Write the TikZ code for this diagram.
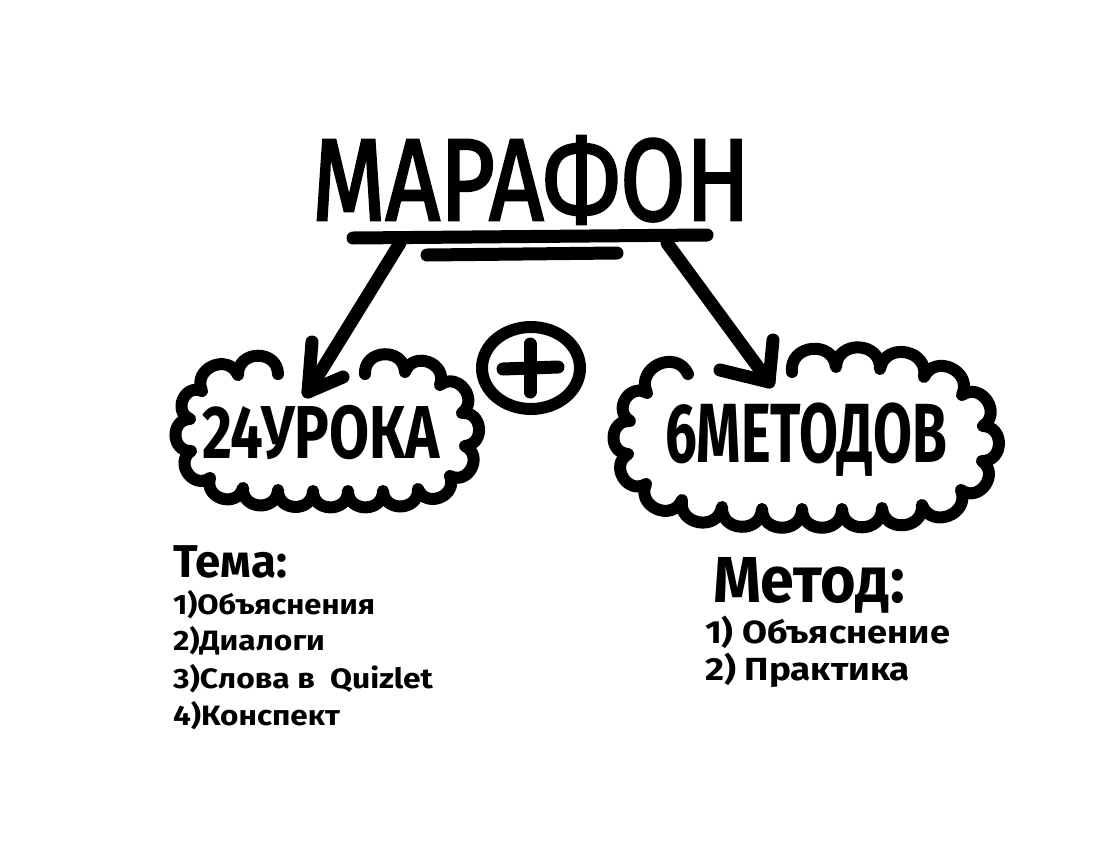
\documentclass[tikz,border=0pt]{standalone}
\usepackage{fontspec}
\setmainfont{Fira Sans}
\newfontfamily\titlefont{Fira Sans}[FakeBold=2.5]
\usetikzlibrary{shapes.geometric}
\newsavebox\fitbox
\newcommand\fitw[3]{{\fontsize{#2}{#2}\selectfont\sbox\fitbox{#3}\edef\fitr{\fpeval{(#1pt)/(\the\wd\fitbox)}}\scalebox{\fitr}[1]{\usebox\fitbox}}}
\begin{document}
\begin{tikzpicture}[x=1pt,y=-1pt,
  marker/.style={line width=13pt, line cap=round, line join=round},
  cloudline/.style={line width=12pt, line cap=round, line join=round},
  bump/.style={bend left=90, looseness=1.6},
  txt/.style={anchor=base west, inner sep=0pt, outer sep=0pt}]
\useasboundingbox[fill=white] (0,0) rectangle (1114,860);

% title
\node[txt] (title) at (312,220) {\fitw{438}{116}{\titlefont МАРАФОН}};
\coordinate (u1a) at (353,238); \coordinate (u1b) at (707,235);
\coordinate (u2a) at (427,255); \coordinate (u2b) at (617,253);
\draw[marker] (u1a) -- (u1b);
\draw[marker] (u2a) -- (u2b);

% plus
\node[draw, ellipse, line width=12pt, minimum width=98pt, minimum height=82pt, inner sep=0pt] (plus) at (531,368) {};
\coordinate (ph1) at (503,369); \coordinate (ph2) at (558,367);
\coordinate (pv1) at (530,344); \coordinate (pv2) at (530,392);
\draw[marker] (ph1) -- (ph2);
\draw[marker] (pv1) -- (pv2);

% left cloud
\draw[cloudline] (365,374)
  foreach \px/\py in {405/372,440/385,462/413,465/446,450/476,418/489,383/491,348/491,313/491,278/490,243/488,210/478,191/451,190/419,202/391,238/375,278/374}
  { to[bump] (\px,\py) };
\node[txt] (lessons) at (202,458) {\fitw{238}{75}{\bfseries 24УРОКА}};

% right cloud
\draw[cloudline] (792,372)
  foreach \px/\py in {836/367,880/369,924/377,962/395,983/426,982/461,961/490,922/505,882/508,842/509,802/509,762/509,722/507,682/500,646/484,628/454,630/421,647/393,688/374}
  { to[bump] (\px,\py) };
\node[txt] (methods) at (665,462) {\fitw{282}{84}{\bfseries 6МЕТОДОВ}};

% arrows
\coordinate (la0) at (400,243); \coordinate (ltip) at (308,392);
\coordinate (lh1) at (312,342); \coordinate (lh2) at (343,377);
\draw[marker] (la0) -- (ltip);
\draw[marker] (lh1) -- (ltip) -- (lh2);
\coordinate (ra0) at (667,243); \coordinate (rtip) at (769,382);
\coordinate (rh1) at (720,370); \coordinate (rh2) at (773,340);
\draw[marker] (ra0) -- (rtip);
\draw[marker] (rh1) -- (rtip) -- (rh2);

% left list
\node[txt] (tema) at (173,577) {\fitw{114}{46}{\bfseries Тема:}};
\node[txt] (t1) at (173,614) {\fitw{202}{28}{\bfseries 1)Объяснения}};
\node[txt] (t2) at (173,650) {\fitw{152}{28}{\bfseries 2)Диалоги}};
\node[txt] (t3) at (173,688) {\fitw{260}{28}{\bfseries 3)Слова в\ \ Quizlet}};
\node[txt] (t4) at (173,725) {\fitw{167}{28}{\bfseries 4)Конспект}};

% right list
\node[txt] (metod) at (713,602) {\fitw{192}{65}{\bfseries Метод:}};
\node[txt] (m1) at (705,643) {\fitw{245}{32}{\bfseries 1) Объяснение}};
\node[txt] (m2) at (705,680) {\fitw{205}{32}{\bfseries 2) Практика}};
\end{tikzpicture}
\end{document}
